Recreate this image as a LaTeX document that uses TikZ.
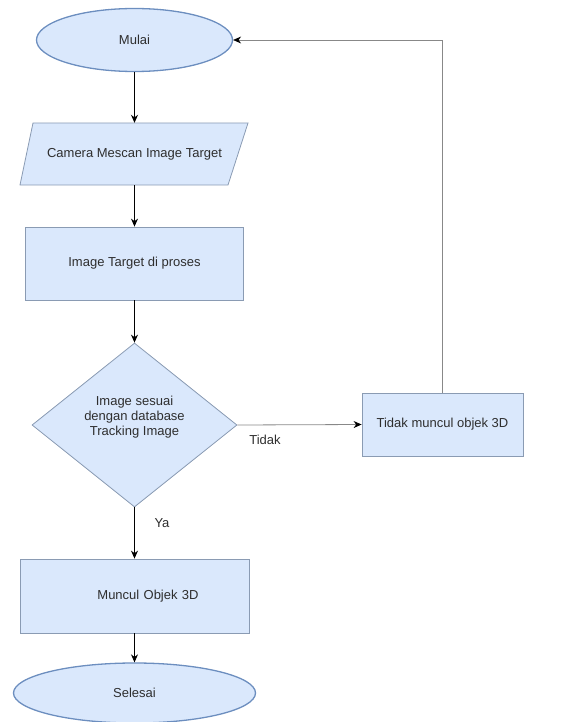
\documentclass[tikz,border=0pt]{standalone}
\usepackage{fontspec}
\setmainfont{Liberation Sans}
\usetikzlibrary{shapes.geometric,arrows.meta}
\definecolor{boxfill}{HTML}{DAE8FC}
\definecolor{ellstroke}{HTML}{6C8EBF}
\definecolor{boxstroke}{HTML}{8A9BB3}
\definecolor{txtgray}{HTML}{2E2E2E}
\definecolor{linegray}{HTML}{888888}
\begin{document}
\begin{tikzpicture}[x=1pt,y=-1pt,
  every node/.style={font=\fontsize{13}{15}\selectfont, text=txtgray, inner sep=0pt},
  term/.style={ellipse, draw=ellstroke, line width=1.3pt, fill=boxfill},
  proc/.style={rectangle, draw=boxstroke, line width=0.8pt, fill=boxfill},
  ioshape/.style={draw=boxstroke, line width=0.8pt, fill=boxfill},
  dec/.style={diamond, draw=boxstroke, line width=0.8pt, fill=boxfill},
  lbl/.style={font=\fontsize{13}{15}\selectfont},
  flow/.style={draw=black, line width=0.8pt, -{Stealth[length=8pt,width=7pt]}},
  gflow/.style={draw=linegray, line width=0.8pt, -{Stealth[length=8pt,width=7pt,color=black]}}
]
\useasboundingbox (0,0) rectangle (584,722);
\node[term, minimum width=196pt, minimum height=63pt] (mulai) at (134.5,40) {Mulai};
\draw[ioshape] (33,123) -- (248,123) -- (228,185) -- (20,185) -- cycle;
\node[minimum width=200pt, minimum height=62pt] (scan) at (134.5,154) {Camera Mescan Image Target};
\node[proc, minimum width=218pt, minimum height=73pt] (proses) at (134.5,263.5) {Image Target di proses};
\node[dec, minimum width=205pt, minimum height=164pt] (dia) at (134.5,425) {};
\node[align=center] (diatext) at (134.5,417) {Image sesuai\\dengan database\\Tracking Image};
\node[proc, minimum width=161pt, minimum height=63pt] (tidakbox) at (442.5,424.5) {Tidak muncul objek 3D};
\node[proc, minimum width=229pt, minimum height=74pt, text width=229pt, align=center] (muncul) at (134.5,596) {\hspace*{27pt}Muncul Objek 3D};
\node[term, minimum width=242pt, minimum height=60pt] (selesai) at (134.5,693) {Selesai};
\node[lbl] (tidaklbl) at (265,440) {Tidak};
\node[lbl] (yalbl) at (162,523) {Ya};
\coordinate (corner) at (tidakbox.north |- mulai.east);
\draw[flow] (mulai) -- (scan);
\draw[flow] (scan) -- (proses);
\draw[flow] (proses) -- (dia.north);
\draw[gflow] (dia.east) -- (tidakbox.west);
\draw[flow] (dia.south) -- (muncul.north);
\draw[flow] (muncul) -- (selesai);
\draw[gflow] (tidakbox.north) -- (corner) -- (mulai.east);
\end{tikzpicture}
\end{document}
